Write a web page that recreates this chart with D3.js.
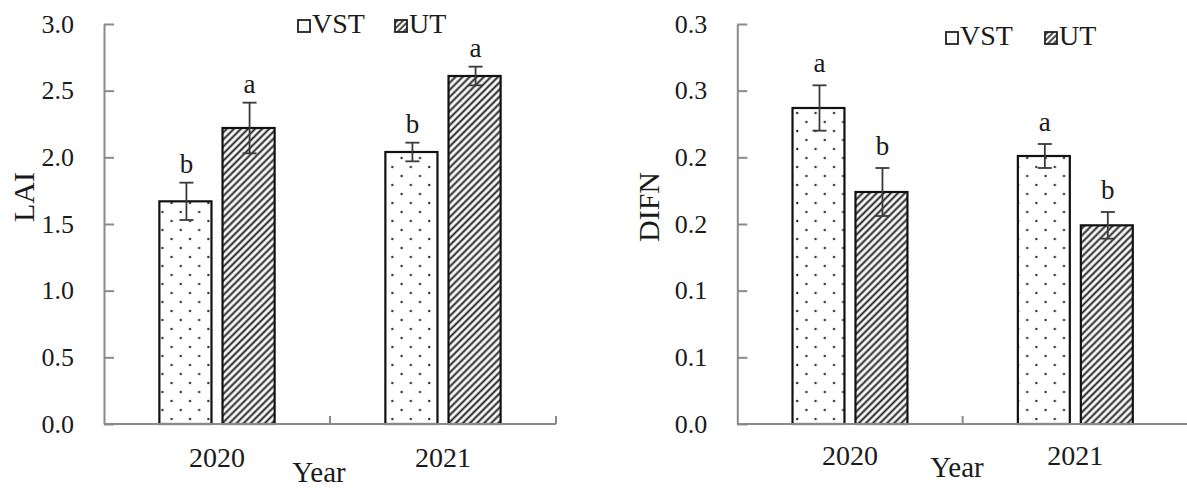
<!DOCTYPE html>
<html>
<head>
<meta charset="utf-8">
<script src="https://cdn.jsdelivr.net/npm/d3@7"></script>
<style>
  html, body { margin: 0; padding: 0; background: #fff; }
  svg text { font-family: "Liberation Serif", "Times New Roman", serif; fill: #1a1a1a; }
</style>
</head>
<body>
<svg id="chart" width="1187" height="489"></svg>
<script>
// ---------- data ----------
const years = ["2020", "2021"];
const seriesNames = ["VST", "UT"];

const laiVST = [1.67, 2.04];
const laiVSTErr = [0.14, 0.07];
const laiUT = [2.22, 2.61];
const laiUTErr = [0.19, 0.07];
const laiVSTSig = ["b", "b"];
const laiUTSig = ["a", "a"];
const laiTicks = [0, 0.5, 1.0, 1.5, 2.0, 2.5, 3.0];
const laiTickLabels = ["0.0", "0.5", "1.0", "1.5", "2.0", "2.5", "3.0"];

const difnVST = [0.237, 0.201];
const difnVSTErr = [0.017, 0.009];
const difnUT = [0.174, 0.149];
const difnUTErr = [0.018, 0.010];
const difnVSTSig = ["a", "a"];
const difnUTSig = ["b", "b"];
const difnTicks = [0, 0.05, 0.10, 0.15, 0.20, 0.25, 0.30];
const difnTickLabels = ["0.0", "0.1", "0.1", "0.2", "0.2", "0.3", "0.3"];

// ---------- setup ----------
const svg = d3.select("#chart");
const defs = svg.append("defs");

const dots = defs.append("pattern").attr("id", "dots")
  .attr("patternUnits", "userSpaceOnUse").attr("width", 18.4).attr("height", 18);
dots.append("rect").attr("width", 18.4).attr("height", 18).attr("fill", "#fff");
dots.append("circle").attr("cx", 6).attr("cy", 5).attr("r", 1.2).attr("fill", "#333");
dots.append("circle").attr("cx", 15.2).attr("cy", 14).attr("r", 1.2).attr("fill", "#333");

const hatch = defs.append("pattern").attr("id", "hatch")
  .attr("patternUnits", "userSpaceOnUse").attr("width", 5).attr("height", 5)
  .attr("patternTransform", "rotate(45)");
hatch.append("rect").attr("width", 5).attr("height", 5).attr("fill", "#fff");
hatch.append("line").attr("x1", 1.5).attr("y1", 0).attr("x2", 1.5).attr("y2", 5)
  .attr("stroke", "#222").attr("stroke-width", 2);

const smallHatch = defs.append("pattern").attr("id", "hatchSmall")
  .attr("patternUnits", "userSpaceOnUse").attr("width", 4).attr("height", 4)
  .attr("patternTransform", "rotate(45)");
smallHatch.append("rect").attr("width", 4).attr("height", 4).attr("fill", "#fff");
smallHatch.append("line").attr("x1", 1).attr("y1", 0).attr("x2", 1).attr("y2", 4)
  .attr("stroke", "#222").attr("stroke-width", 1.6);

const fills = { VST: "url(#dots)", UT: "url(#hatch)" };

function panel(cfg) {
  const g = svg.append("g");
  const y = d3.scaleLinear().domain(cfg.yDomain).range([424, 24]);
  const x = d3.scaleBand().domain(years).range([cfg.x0, cfg.x1]).padding(0);
  const bw = x.bandwidth();
  const inner = d3.scaleBand().domain(seriesNames)
    .range([0.245 * bw, 0.755 * bw]).paddingInner(0.175);

  // y axis
  const yAxis = d3.axisLeft(y)
    .tickValues(cfg.ticks)
    .tickFormat((d, i) => cfg.tickLabels[i])
    .tickSizeInner(-10).tickSizeOuter(0).tickPadding(30);
  const ya = g.append("g").attr("transform", `translate(${cfg.x0},0)`).call(yAxis);
  ya.select(".domain").attr("stroke", "#8a8a8a").attr("stroke-width", 2);
  ya.selectAll(".tick line").attr("stroke", "#8a8a8a").attr("stroke-width", 2);
  ya.selectAll(".tick text").attr("font-size", 26).attr("fill", "#222")
    .attr("font-family", "Liberation Serif");

  // bars
  const data = [];
  years.forEach((yr, i) => {
    data.push({ yr, s: "VST", v: cfg.vst[i], e: cfg.vstErr[i], sig: cfg.vstSig[i] });
    data.push({ yr, s: "UT", v: cfg.ut[i], e: cfg.utErr[i], sig: cfg.utSig[i] });
  });

  g.selectAll("rect.bar").data(data).enter().append("rect")
    .attr("class", "bar")
    .attr("x", d => x(d.yr) + inner(d.s))
    .attr("y", d => y(d.v))
    .attr("width", inner.bandwidth())
    .attr("height", d => y(0) - y(d.v))
    .attr("fill", d => fills[d.s])
    .attr("stroke", "#111").attr("stroke-width", 2.2);

  // x axis line with boundary ticks
  g.append("line").attr("x1", cfg.x0).attr("x2", cfg.x1)
    .attr("y1", y(0)).attr("y2", y(0))
    .attr("stroke", "#8a8a8a").attr("stroke-width", 2);
  const bounds = [x(years[0]) + bw, x(years[1]) + bw];
  g.selectAll("line.xt").data(bounds).enter().append("line")
    .attr("x1", d => d).attr("x2", d => d)
    .attr("y1", y(0)).attr("y2", y(0) - 8)
    .attr("stroke", "#8a8a8a").attr("stroke-width", 2);

  // error bars
  const cx = d => x(d.yr) + inner(d.s) + inner.bandwidth() / 2 + 1;
  const eb = g.selectAll("g.err").data(data).enter().append("g").attr("class", "err");
  eb.append("line").attr("x1", cx).attr("x2", cx)
    .attr("y1", d => y(d.v + d.e)).attr("y2", d => y(d.v - d.e))
    .attr("stroke", "#3a3a3a").attr("stroke-width", 1.8);
  eb.append("line").attr("x1", d => cx(d) - 7).attr("x2", d => cx(d) + 7)
    .attr("y1", d => y(d.v + d.e)).attr("y2", d => y(d.v + d.e))
    .attr("stroke", "#3a3a3a").attr("stroke-width", 1.8);
  eb.append("line").attr("x1", d => cx(d) - 7).attr("x2", d => cx(d) + 7)
    .attr("y1", d => y(d.v - d.e)).attr("y2", d => y(d.v - d.e))
    .attr("stroke", "#3a3a3a").attr("stroke-width", 1.8);

  // significance letters
  g.selectAll("text.sig").data(data).enter().append("text")
    .attr("class", "sig")
    .attr("x", cx)
    .attr("y", d => y(d.v + d.e) - cfg.sigOff)
    .attr("text-anchor", "middle")
    .attr("font-size", 27)
    .text(d => d.sig);

  // x tick labels
  g.selectAll("text.xl").data(years).enter().append("text")
    .attr("class", "xl")
    .attr("x", d => x(d) + bw / 2)
    .attr("y", cfg.xLabelY)
    .attr("text-anchor", "middle")
    .attr("font-size", 28)
    .text(d => d);

  // axis titles
  g.append("text").attr("x", cfg.yearX).attr("y", cfg.yearY)
    .attr("text-anchor", "middle").attr("font-size", 29).text("Year");
  g.append("text")
    .attr("transform", `translate(${cfg.yTitleX},${cfg.yTitleY}) rotate(-90)`)
    .attr("text-anchor", "middle").attr("dominant-baseline", "central")
    .attr("font-size", 30).text(cfg.yTitle);

  // legend
  const lg = g.append("g").attr("transform", `translate(${cfg.legX},${cfg.legY})`);
  const legItems = [{ s: "VST", dx: 0 }, { s: "UT", dx: cfg.legGap }];
  const li = lg.selectAll("g").data(legItems).enter().append("g")
    .attr("transform", d => `translate(${d.dx},0)`);
  li.append("rect").attr("x", 0).attr("y", -13).attr("width", 12).attr("height", 12)
    .attr("fill", d => d.s === "VST" ? "#fff" : "url(#hatchSmall)")
    .attr("stroke", "#222").attr("stroke-width", 1.8);
  li.append("text").attr("x", 14).attr("y", 0).attr("font-size", 28).text(d => d.s);
}

panel({
  x0: 104, x1: 556, yDomain: [0, 3],
  ticks: laiTicks, tickLabels: laiTickLabels,
  vst: laiVST, vstErr: laiVSTErr, vstSig: laiVSTSig,
  ut: laiUT, utErr: laiUTErr, utSig: laiUTSig,
  sigOff: 10, xLabelY: 467, yearX: 319, yearY: 482,
  yTitle: "LAI", yTitleX: 23, yTitleY: 197,
  legX: 298, legY: 33, legGap: 97
});

panel({
  x0: 737.3, x1: 1188, yDomain: [0, 0.3],
  ticks: difnTicks, tickLabels: difnTickLabels,
  vst: difnVST, vstErr: difnVSTErr, vstSig: difnVSTSig,
  ut: difnUT, utErr: difnUTErr, utSig: difnUTSig,
  sigOff: 13, xLabelY: 465, yearX: 957, yearY: 477,
  yTitle: "DIFN", yTitleX: 648, yTitleY: 207,
  legX: 946, legY: 45, legGap: 99
});
</script>
</body>
</html>
